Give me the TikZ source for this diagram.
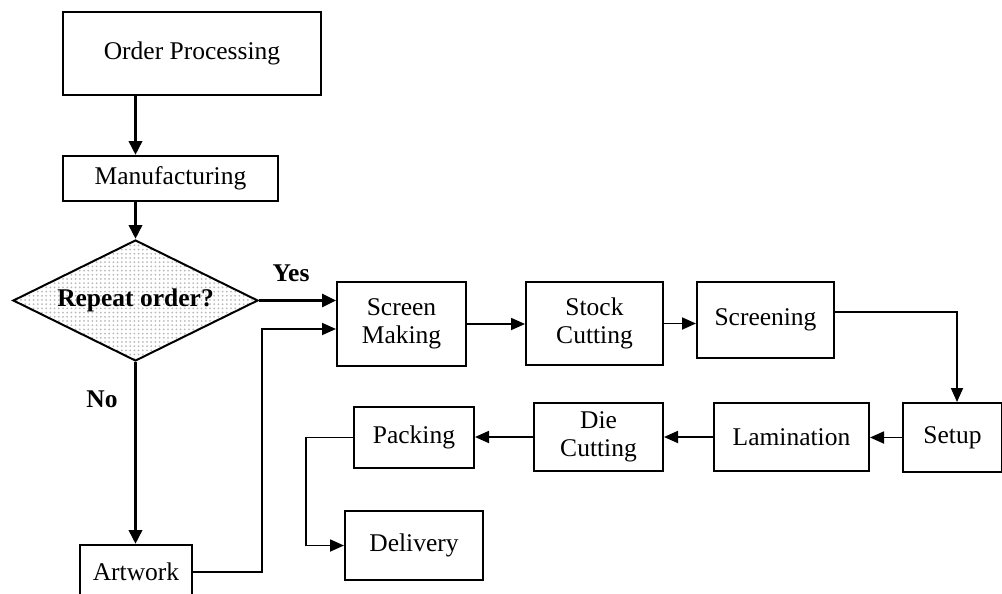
\documentclass[tikz,border=0pt]{standalone}
\usepackage{fontspec}
\setmainfont{Liberation Serif}
\usetikzlibrary{shapes.geometric,arrows.meta,patterns.meta}
\begin{document}
\begin{tikzpicture}[x=1pt,y=-1pt,
  box/.style={draw, line width=2pt, inner sep=0pt, align=center,
    font=\fontsize{25.5}{28}\selectfont},
  decision/.style={diamond, draw, line width=2pt, inner sep=0pt, aspect=2,
    pattern={Dots[distance=4.2pt,radius=1pt]}, pattern color=gray!55,
    font=\fontsize{25.5}{28}\selectfont\bfseries},
  answer/.style={font=\fontsize{25.5}{28}\selectfont\bfseries, inner sep=0pt},
  link/.style={line width=1.8pt, -{Triangle[length=14pt,width=12pt]}},
  mainlink/.style={line width=3.6pt, -{Triangle[length=14pt,width=13pt]}},
  yeslink/.style={line width=2.8pt, -{Triangle[length=14pt,width=13pt]}}]
\useasboundingbox (0,0) rectangle (1002,594);

% process boxes
\node[box, minimum width=258pt, minimum height=83pt] (op) at (192,53.5) {Order Processing};
\node[box, minimum width=215pt, minimum height=45pt] (mf) at (170.5,178.5) {Manufacturing};
\node[decision, minimum width=245pt, minimum height=121pt] (dia) at (135.5,300.5) {Repeat order?};
\node[box, minimum width=129pt, minimum height=84pt] (sm) at (401.5,324) {Screen\\Making};
\node[box, minimum width=137pt, minimum height=83pt] (sc) at (594.5,323.5) {Stock\\Cutting};
\node[box, minimum width=137pt, minimum height=76pt] (scr) at (765.5,320) {Screening};
\node[box, minimum width=99pt, minimum height=69pt] (setup) at (952.5,437.5) {Setup};
\node[box, minimum width=155pt, minimum height=68pt] (lam) at (791.5,437) {Lamination};
\node[box, minimum width=129pt, minimum height=68pt] (dc) at (598.5,437) {Die\\Cutting};
\node[box, minimum width=120pt, minimum height=61pt] (pk) at (414,437.5) {Packing};
\node[box, minimum width=138pt, minimum height=69pt] (dl) at (414,545.5) {Delivery};
\node[box, minimum width=112pt, minimum height=54pt] (art) at (136,572) {Artwork};

% branch labels
\node[answer] (yes) at (291,273) {Yes};
\node[answer] (no) at (102,399) {No};

% main flow
\draw[mainlink] (dia.north |- op.south) -- (dia.north |- mf.north);
\draw[mainlink] (dia.north |- mf.south) -- (dia.north);
\draw[yeslink] (dia.east) -- (dia.east -| sm.west);
\draw[mainlink] (dia.south) -- (dia.south |- art.north);
\draw[link] (art.east) -- ++(69,0) |- ([yshift=-5pt]sm.west);

% production line
\draw[link] (sm.east) -- (sm.east -| sc.west);
\draw[link] (sc.east) -- (sc.east -| scr.west);
\draw[link] ([yshift=8pt]scr.east) -| ([xshift=4.5pt]setup.north);
\draw[link] (setup.west) -- (setup.west -| lam.east);
\draw[link] (lam.west) -- (lam.west -| dc.east);
\draw[link] (dc.west) -- (dc.west -| pk.east);
\draw[link] (pk.west) -- ++(-47,0) |- (dl.west);
\end{tikzpicture}
\end{document}
